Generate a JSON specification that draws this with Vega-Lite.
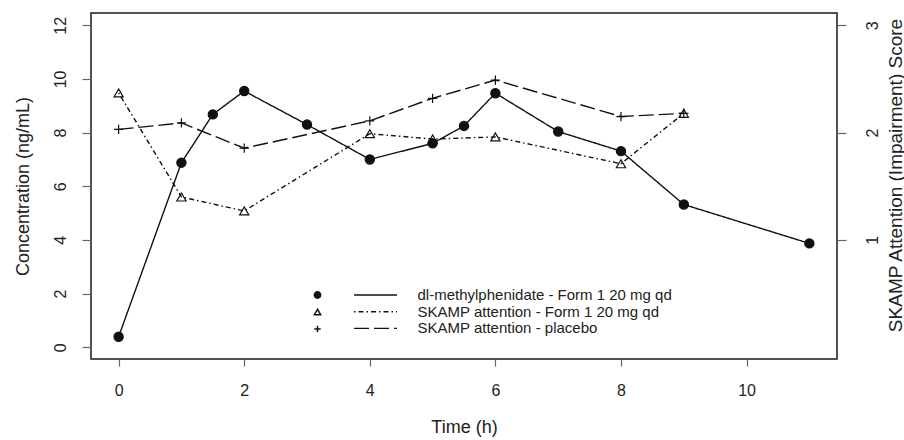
{
  "$schema": "https://vega.github.io/schema/vega-lite/v6.json",
  "width": 746,
  "height": 346,
  "autosize": {"type": "none"},
  "padding": {"left": 91, "top": 13, "right": 67, "bottom": 81},
  "config": {
    "font": "Liberation Sans",
    "view": {"stroke": "#1a1a1a", "strokeWidth": 1.5},
    "axis": {
      "grid": false, "domain": false, "tickColor": "#666", "tickWidth": 1.2,
      "labelColor": "#222", "titleColor": "#222", "labelFontSize": 16, "titleFontSize": 18,
      "titleFontWeight": "normal", "labelFont": "Liberation Sans", "titleFont": "Liberation Sans"
    },
    "legend": {"padding": 0, "labelFontSize": 15, "labelColor": "#222", "labelFont": "Liberation Sans", "labelLimit": 400}
  },
  "datasets": {
    "conc": [
      {"time": 0, "concentration": 0.39, "series": "dl-methylphenidate - Form 1 20 mg qd"},
      {"time": 1, "concentration": 6.88, "series": "dl-methylphenidate - Form 1 20 mg qd"},
      {"time": 1.5, "concentration": 8.68, "series": "dl-methylphenidate - Form 1 20 mg qd"},
      {"time": 2, "concentration": 9.55, "series": "dl-methylphenidate - Form 1 20 mg qd"},
      {"time": 3, "concentration": 8.3, "series": "dl-methylphenidate - Form 1 20 mg qd"},
      {"time": 4, "concentration": 7.0, "series": "dl-methylphenidate - Form 1 20 mg qd"},
      {"time": 5, "concentration": 7.6, "series": "dl-methylphenidate - Form 1 20 mg qd"},
      {"time": 5.5, "concentration": 8.25, "series": "dl-methylphenidate - Form 1 20 mg qd"},
      {"time": 6, "concentration": 9.47, "series": "dl-methylphenidate - Form 1 20 mg qd"},
      {"time": 7, "concentration": 8.04, "series": "dl-methylphenidate - Form 1 20 mg qd"},
      {"time": 8, "concentration": 7.31, "series": "dl-methylphenidate - Form 1 20 mg qd"},
      {"time": 9, "concentration": 5.32, "series": "dl-methylphenidate - Form 1 20 mg qd"},
      {"time": 11, "concentration": 3.87, "series": "dl-methylphenidate - Form 1 20 mg qd"}
    ],
    "score": [
      {"time": 0, "score": 2.37, "series": "SKAMP attention - Form 1 20 mg qd"},
      {"time": 1, "score": 1.40, "series": "SKAMP attention - Form 1 20 mg qd"},
      {"time": 2, "score": 1.27, "series": "SKAMP attention - Form 1 20 mg qd"},
      {"time": 4, "score": 1.99, "series": "SKAMP attention - Form 1 20 mg qd"},
      {"time": 5, "score": 1.94, "series": "SKAMP attention - Form 1 20 mg qd"},
      {"time": 6, "score": 1.96, "series": "SKAMP attention - Form 1 20 mg qd"},
      {"time": 8, "score": 1.71, "series": "SKAMP attention - Form 1 20 mg qd"},
      {"time": 9, "score": 2.18, "series": "SKAMP attention - Form 1 20 mg qd"},
      {"time": 0, "score": 2.03, "series": "SKAMP attention - placebo"},
      {"time": 1, "score": 2.09, "series": "SKAMP attention - placebo"},
      {"time": 2, "score": 1.855, "series": "SKAMP attention - placebo"},
      {"time": 4, "score": 2.11, "series": "SKAMP attention - placebo"},
      {"time": 5, "score": 2.32, "series": "SKAMP attention - placebo"},
      {"time": 6, "score": 2.49, "series": "SKAMP attention - placebo"},
      {"time": 8, "score": 2.15, "series": "SKAMP attention - placebo"},
      {"time": 9, "score": 2.18, "series": "SKAMP attention - placebo"}
    ]
  },
  "layer": [
    {
      "data": {"name": "conc"},
      "encoding": {
        "x": {
          "field": "time", "type": "quantitative",
          "scale": {"domain": [-0.44, 11.44], "nice": false, "zero": false},
          "axis": {"values": [0, 2, 4, 6, 8, 10], "title": "Time (h)", "tickSize": 7, "labelPadding": 16, "titlePadding": 20, "labelFlush": false}
        },
        "y": {
          "field": "concentration", "type": "quantitative",
          "scale": {"domain": [-0.44, 12.46], "nice": false, "zero": false},
          "axis": {"orient": "left", "values": [0, 2, 4, 6, 8, 10, 12], "title": "Concentration (ng/mL)", "tickSize": 9,
                   "labelAngle": 270, "labelAlign": "center", "labelBaseline": "bottom", "labelPadding": 14, "titlePadding": 20}
        }
      },
      "layer": [
        {
          "mark": {"type": "line", "color": "#111", "strokeWidth": 1.4},
          "encoding": {
            "strokeDash": {
              "field": "series", "type": "nominal",
              "sort": ["dl-methylphenidate - Form 1 20 mg qd", "SKAMP attention - Form 1 20 mg qd", "SKAMP attention - placebo"],
              "scale": {"range": [[1, 0], [1.5, 3, 5, 3], [15, 5]]},
              "legend": {"orient": "none", "legendX": 276.5, "legendY": 274, "title": null, "symbolType": "M-3,0H3", "symbolSize": 205,
                         "symbolStrokeWidth": 1.4, "symbolStrokeColor": "#111", "labelOffset": 34, "rowPadding": 0.7}
            }
          }
        },
        {
          "mark": {"type": "point", "stroke": "#111", "strokeWidth": 1.2, "size": 85, "opacity": 1},
          "encoding": {
            "shape": {
              "field": "series", "type": "nominal",
              "scale": {"domain": ["dl-methylphenidate - Form 1 20 mg qd", "SKAMP attention - Form 1 20 mg qd", "SKAMP attention - placebo"],
                        "range": ["circle", "triangle-up", "M-1,0H1M0,-1V1"]},
              "legend": {"orient": "none", "legendX": 219, "legendY": 274.5, "title": null, "labelExpr": "''", "symbolSize": 40, "rowPadding": 1}
            },
            "fill": {
              "field": "series", "type": "nominal",
              "scale": {"domain": ["dl-methylphenidate - Form 1 20 mg qd", "SKAMP attention - Form 1 20 mg qd", "SKAMP attention - placebo"],
                        "range": ["#111", "transparent", "transparent"]},
              "legend": {"orient": "none", "legendX": 219, "legendY": 274.5, "title": null, "labelExpr": "''", "symbolSize": 40, "rowPadding": 1}
            }
          }
        }
      ]
    },
    {
      "data": {"name": "score"},
      "encoding": {
        "x": {
          "field": "time", "type": "quantitative",
          "scale": {"domain": [-0.44, 11.44], "nice": false, "zero": false},
          "axis": {"values": [0, 2, 4, 6, 8, 10], "title": "Time (h)", "tickSize": 7, "labelPadding": 16, "titlePadding": 20, "labelFlush": false}
        },
        "y": {
          "field": "score", "type": "quantitative",
          "scale": {"domain": [-0.11, 3.115], "nice": false, "zero": false},
          "axis": {"orient": "right", "values": [1, 2, 3], "title": "SKAMP Attention (Impairment) Score", "tickSize": 9,
                   "labelAngle": 270, "labelAlign": "center", "labelBaseline": "top", "labelPadding": 18,
                   "titleAngle": 270, "titleBaseline": "top", "titlePadding": 6, "titleY": 162, "titleFontSize": 19}
        }
      },
      "layer": [
        {
          "mark": {"type": "line", "color": "#111", "strokeWidth": 1.4},
          "encoding": {
            "strokeDash": {
              "field": "series", "type": "nominal",
              "sort": ["dl-methylphenidate - Form 1 20 mg qd", "SKAMP attention - Form 1 20 mg qd", "SKAMP attention - placebo"],
              "legend": {"orient": "none", "legendX": 276.5, "legendY": 274, "title": null, "symbolType": "M-3,0H3", "symbolSize": 205,
                         "symbolStrokeWidth": 1.4, "symbolStrokeColor": "#111", "labelOffset": 34, "rowPadding": 0.7}
            }
          }
        },
        {
          "mark": {"type": "point", "stroke": "#111", "strokeWidth": 1.2, "size": 85, "opacity": 1},
          "encoding": {
            "shape": {
              "field": "series", "type": "nominal",
              "legend": {"orient": "none", "legendX": 219, "legendY": 274.5, "title": null, "labelExpr": "''", "symbolSize": 40, "rowPadding": 1}
            },
            "fill": {
              "field": "series", "type": "nominal",
              "legend": {"orient": "none", "legendX": 219, "legendY": 274.5, "title": null, "labelExpr": "''", "symbolSize": 40, "rowPadding": 1}
            }
          }
        }
      ]
    }
  ],
  "resolve": {"scale": {"y": "independent"}}
}
